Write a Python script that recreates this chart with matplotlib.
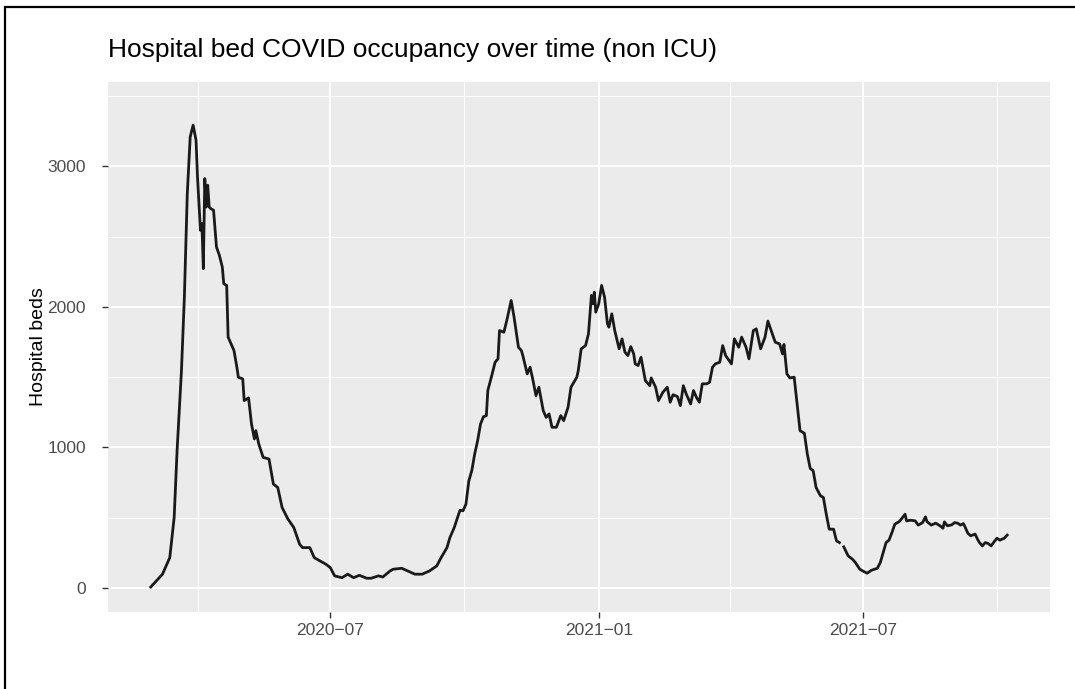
import numpy as np
import pandas as pd
import matplotlib
matplotlib.use("Agg")
import matplotlib.pyplot as plt
from matplotlib.patches import Rectangle

plt.rcParams['font.family'] = ['Liberation Sans', 'DejaVu Sans']

# values (NaN = gap in the series)
datas = [
    "2020-02-29", "2020-03-08", "2020-03-13", "2020-03-16", "2020-03-18", "2020-03-21",
    "2020-03-23", "2020-03-25", "2020-03-27", "2020-03-29", "2020-03-31", "2020-04-01",
    "2020-04-03", "2020-04-04", "2020-04-05", "2020-04-06", "2020-04-07", "2020-04-08",
    "2020-04-09", "2020-04-10", "2020-04-12", "2020-04-14", "2020-04-16", "2020-04-18",
    "2020-04-19", "2020-04-21", "2020-04-22", "2020-04-26", "2020-04-28", "2020-04-29",
    "2020-05-02", "2020-05-03", "2020-05-06", "2020-05-08", "2020-05-10", "2020-05-11",
    "2020-05-13", "2020-05-16", "2020-05-20", "2020-05-23", "2020-05-26", "2020-05-29",
    "2020-06-02", "2020-06-06", "2020-06-10", "2020-06-12", "2020-06-17", "2020-06-20",
    "2020-06-24", "2020-06-28", "2020-07-01", "2020-07-04", "2020-07-09", "2020-07-13",
    "2020-07-17", "2020-07-21", "2020-07-26", "2020-07-29", "2020-08-03", "2020-08-06",
    "2020-08-11", "2020-08-13", "2020-08-19", "2020-08-23", "2020-08-28", "2020-09-02",
    "2020-09-07", "2020-09-12", "2020-09-15", "2020-09-19", "2020-09-21", "2020-09-24",
    "2020-09-27", "2020-09-28", "2020-09-30", "2020-10-02", "2020-10-04", "2020-10-06",
    "2020-10-08", "2020-10-10", "2020-10-12", "2020-10-14", "2020-10-16", "2020-10-17",
    "2020-10-20", "2020-10-22", "2020-10-24", "2020-10-25", "2020-10-28", "2020-10-30",
    "2020-11-02", "2020-11-04", "2020-11-06", "2020-11-07", "2020-11-09", "2020-11-10",
    "2020-11-13", "2020-11-15", "2020-11-17", "2020-11-19", "2020-11-21", "2020-11-24",
    "2020-11-26", "2020-11-28", "2020-11-30", "2020-12-03", "2020-12-06", "2020-12-08",
    "2020-12-11", "2020-12-13", "2020-12-17", "2020-12-18", "2020-12-20", "2020-12-23",
    "2020-12-25", "2020-12-27", "2020-12-28", "2020-12-29", "2020-12-30", "2021-01-01",
    "2021-01-03", "2021-01-05", "2021-01-07", "2021-01-08", "2021-01-10", "2021-01-12",
    "2021-01-15", "2021-01-17", "2021-01-19", "2021-01-21", "2021-01-23", "2021-01-25",
    "2021-01-26", "2021-01-28", "2021-01-30", "2021-02-02", "2021-02-05", "2021-02-06",
    "2021-02-09", "2021-02-11", "2021-02-14", "2021-02-17", "2021-02-19", "2021-02-21",
    "2021-02-24", "2021-02-26", "2021-02-28", "2021-03-02", "2021-03-05", "2021-03-07",
    "2021-03-09", "2021-03-11", "2021-03-13", "2021-03-16", "2021-03-18", "2021-03-20",
    "2021-03-22", "2021-03-25", "2021-03-27", "2021-03-29", "2021-04-02", "2021-04-04",
    "2021-04-07", "2021-04-09", "2021-04-12", "2021-04-14", "2021-04-17", "2021-04-19",
    "2021-04-22", "2021-04-25", "2021-04-27", "2021-04-30", "2021-05-02", "2021-05-05",
    "2021-05-07", "2021-05-08", "2021-05-10", "2021-05-12", "2021-05-15", "2021-05-17",
    "2021-05-19", "2021-05-22", "2021-05-24", "2021-05-26", "2021-05-28", "2021-05-30",
    "2021-06-02", "2021-06-04", "2021-06-06", "2021-06-08", "2021-06-11", "2021-06-13",
    "2021-06-15", "2021-06-16", "2021-06-18", "2021-06-21", "2021-06-24", "2021-06-26",
    "2021-06-29", "2021-07-01", "2021-07-04", "2021-07-07", "2021-07-11", "2021-07-13",
    "2021-07-15", "2021-07-17", "2021-07-19", "2021-07-21", "2021-07-23", "2021-07-26",
    "2021-07-28", "2021-07-30", "2021-07-31", "2021-08-03", "2021-08-06", "2021-08-08",
    "2021-08-11", "2021-08-13", "2021-08-14", "2021-08-17", "2021-08-20", "2021-08-23",
    "2021-08-25", "2021-08-26", "2021-08-28", "2021-08-31", "2021-09-02", "2021-09-04",
    "2021-09-06", "2021-09-08", "2021-09-09", "2021-09-11", "2021-09-13", "2021-09-16",
    "2021-09-18", "2021-09-19", "2021-09-21", "2021-09-23", "2021-09-25", "2021-09-27",
    "2021-09-29", "2021-10-01", "2021-10-03", "2021-10-06", "2021-10-08",
]

leitos = [
    7, 98, 216, 501, 976, 1546,
    2069, 2805, 3209, 3292, 3185, 2924,
    2544, 2592, 2271, 2912, 2710, 2865,
    2710, 2699, 2687, 2425, 2366, 2283,
    2164, 2152, 1784, 1689, 1570, 1499,
    1487, 1333, 1352, 1167, 1060, 1119,
    1024, 929, 917, 739, 715, 572,
    490, 430, 311, 287, 287, 216,
    192, 169, 145, 86, 73, 98,
    73, 90, 69, 69, 86, 78,
    121, 133, 140, 121, 98, 98,
    121, 157, 216, 287, 358, 430,
    525, 553, 549, 596, 762, 834,
    953, 1047, 1166, 1218, 1226, 1404,
    1523, 1606, 1630, 1831, 1819, 1903,
    2045, 1926, 1784, 1712, 1689, 1653,
    1523, 1570, 1475, 1368, 1428, 1261,
    1213, 1238, 1143, 1143, 1226, 1190,
    1285, 1428, 1499, 1546, 1701, 1724,
    1808, 2081, 2021, 2104, 1962, 2021,
    2152, 2069, 1879, 1855, 1950, 1831,
    1701, 1772, 1677, 1653, 1717, 1665,
    1594, 1582, 1641, 1475, 1439, 1494,
    1428, 1333, 1392, 1428, 1321, 1375,
    1361, 1297, 1439, 1380, 1309, 1404,
    1356, 1321, 1452, 1452, 1463, 1570,
    1594, 1606, 1724, 1653, 1594, 1772,
    1712, 1784, 1712, 1630, 1831, 1843,
    1701, 1784, 1898, 1808, 1748, 1736,
    1665, 1732, 1523, 1494, 1499, 1309,
    1119, 1100, 953, 850, 834, 715,
    656, 644, 525, 418, 418, 335,
    323, np.nan, 292, 228, 204, 180,
    133, 121, 105, 126, 140, 180,
    252, 323, 340, 394, 454, 472,
    497, 525, 477, 482, 477, 447,
    465, 506, 472, 447, 461, 442,
    425, 470, 442, 449, 465, 461,
    447, 458, 437, 390, 371, 383,
    340, 323, 299, 323, 316, 299,
    328, 354, 340, 354, 376,
]

ticks_x = ["2020-07-01", "2021-01-01", "2021-07-01"]
rotulos_x = ["2020\u221207", "2021\u221201", "2021\u221207"]
minor_x = ["2020-04-01", "2020-10-01", "2021-04-01", "2021-10-01"]
ticks_y = [0, 1000, 2000, 3000]
minor_y = [500, 1500, 2500, 3500]

datas = pd.to_datetime(datas)

fig = plt.figure(figsize=(10.75, 6.89), dpi=100)
ax = fig.add_axes([108 / 1075, 1 - 612 / 689, (1050 - 108) / 1075, (612 - 82) / 689])

ax.set_facecolor('#EBEBEB')
for s in ax.spines.values():
    s.set_visible(False)

ax.set_xticks(pd.to_datetime(ticks_x))
ax.set_xticklabels(rotulos_x)
ax.set_xticks(pd.to_datetime(minor_x), minor=True)
ax.set_yticks(ticks_y)
ax.set_yticks(minor_y, minor=True)
ax.grid(which='major', color='white', linewidth=1.4)
ax.grid(which='minor', color='white', linewidth=0.7)
ax.set_axisbelow(True)

ax.plot(datas, leitos, color='#1a1a1a', linewidth=2.0)

span = datas.max() - datas.min()
ax.set_xlim(datas.min() - span * 0.05, datas.max() + span * 0.05)
ax.set_ylim(-171, 3599)

ax.tick_params(which='major', length=4, width=1, color='#333333',
               labelcolor='#4D4D4D', labelsize=12.5)
ax.tick_params(axis='y', which='major', pad=12)
ax.tick_params(axis='x', which='major', pad=4)
ax.tick_params(which='minor', length=0)

ax.set_ylabel('Hospital beds', fontsize=14, color='black', labelpad=0)
ax.set_title('Hospital bed COVID occupancy over time (non ICU)', loc='left',
             fontsize=19, pad=18)

# moldura da figura (lados esquerdo e superior visiveis)
fig.patches.append(Rectangle((5 / 1075, -0.05), 1.2, 1.05 - 7 / 689,
                             transform=fig.transFigure, fill=False,
                             edgecolor='black', linewidth=1.6))

fig.savefig('out.png', dpi=100)
